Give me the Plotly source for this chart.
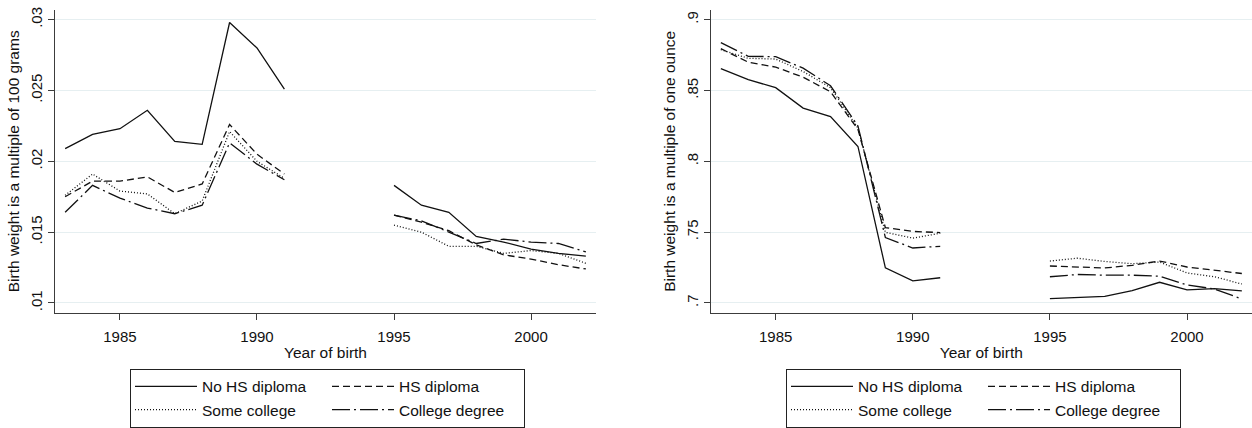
import plotly.graph_objects as go

# ---------------- data ----------------
years = list(range(1983, 2003))
N = None

# Left panel: share of birth weights that are a multiple of 100 grams
nohs_g = [.0209, .0219, .0223, .0236, .0214, .0212, .0298, .0280, .0251, N, N, N,
          .0183, .0169, .0164, .0147, .0143, .0138, .0135, .0133]
hs_g = [.0175, .0186, .0186, .0189, .0178, .0184, .0226, .0205, .0191, N, N, N,
        .0162, .0157, .0151, .0141, .0134, .0131, .0127, .0124]
sc_g = [.0176, .0191, .0179, .0177, .0163, .0172, .0221, .0200, .0188, N, N, N,
        .0155, .0150, .0140, .0140, .0135, .0137, .0135, .0128]
cd_g = [.0164, .0183, .0174, .0167, .0163, .0169, .0213, .0198, .0187, N, N, N,
        .0162, .0158, .0150, .0142, .0145, .0143, .0142, .0136]

# Right panel: share of birth weights that are a multiple of one ounce
nohs_o = [.8655, .8577, .8520, .8376, .8316, .8105, .7248, .7156, .7178, N, N, N,
          .7030, .7039, .7046, .7087, .7146, .7092, .7101, .7085]
hs_o = [.8795, .8700, .8665, .8594, .8491, .8225, .7532, .7505, .7497, N, N, N,
        .7261, .7254, .7247, .7266, .7296, .7254, .7231, .7208]
sc_o = [.8788, .8727, .8722, .8634, .8520, .8235, .7499, .7458, .7492, N, N, N,
        .7296, .7316, .7293, .7277, .7289, .7212, .7185, .7134]
cd_o = [.8838, .8741, .8739, .8658, .8533, .8250, .7462, .7388, .7400, N, N, N,
        .7185, .7201, .7196, .7196, .7189, .7127, .7099, .7028]

series_names = ["No HS diploma", "HS diploma", "Some college", "College degree"]
left_series = [nohs_g, hs_g, sc_g, cd_g]
right_series = [nohs_o, hs_o, sc_o, cd_o]

x_tickvals = [1985, 1990, 1995, 2000]
left_tickvals = [.01, .015, .02, .025, .03]
left_ticktext = [".01", ".015", ".02", ".025", ".03"]
right_tickvals = [.7, .75, .8, .85, .9]
right_ticktext = [".7", ".75", ".8", ".85", ".9"]

left_ytitle = "Birth weight is a multiple of 100 grams"
right_ytitle = "Birth weight is a multiple of one ounce"
xtitle = "Year of birth"

# ---------------- styling ----------------
W, H = 1252, 428
FONT = "Liberation Sans, Arial, Helvetica, sans-serif"
INK = "#111111"
dashes = ["solid", "7px,4px", "1px,2px", "18px,4px,2px,4px"]
groups = ["a", "b", "a", "b"]
order = [0, 2, 1, 3]  # legend order: column-wise

fig = go.Figure()

for panel, (series, xa, ya, leg) in enumerate([
        (left_series, "x", "y", "legend"),
        (right_series, "x2", "y2", "legend2")]):
    for i in order:
        fig.add_trace(go.Scatter(
            x=years, y=series[i], mode="lines", name=series_names[i],
            xaxis=xa, yaxis=ya, legend=leg, legendgroup=groups[i] + str(panel),
            connectgaps=False,
            line=dict(color=INK, width=1.3, dash=dashes[i]),
        ))

# pixel geometry
def px_x(v):
    return v / W

def px_y(v):
    return 1 - v / H

xl0, xl1 = 55, 596
xr0, xr1 = 710.7, 1252
yt, yb = 10, 318

axis_common = dict(
    showline=True, linecolor="#3c3c3c", linewidth=1.2,
    ticks="outside", ticklen=6, tickwidth=1.2, tickcolor="#3c3c3c",
    tickfont=dict(family=FONT, size=15, color=INK),
    zeroline=False, automargin=False,
)
x_common = dict(range=[1982.63, 2002.37], tickvals=x_tickvals, showgrid=False,
                ticklabelstandoff=4,
                title=dict(text=xtitle, standoff=3, font=dict(size=15.5)))
y_common = dict(tickangle=-90, showgrid=True, gridcolor="#e6eff1", gridwidth=1)
legend_common = dict(orientation="h", traceorder="grouped", xanchor="left",
                     yanchor="top", bordercolor="#222", borderwidth=1,
                     bgcolor="white", itemwidth=62, entrywidth=120,
                     font=dict(family=FONT, size=15.5))

fig.update_layout(
    width=W, height=H,
    margin=dict(l=0, r=0, t=0, b=0),
    paper_bgcolor="white", plot_bgcolor="white",
    font=dict(family=FONT, size=15.5, color=INK),
    xaxis=dict(domain=[px_x(xl0), px_x(xl1)], anchor="y", **x_common, **axis_common),
    yaxis=dict(domain=[px_y(yb), px_y(yt)], anchor="x",
               range=[0.009306, 0.030694], tickvals=left_tickvals,
               ticktext=left_ticktext,
               title=dict(text=left_ytitle, standoff=4, font=dict(size=15.5)),
               **y_common, **axis_common),
    xaxis2=dict(domain=[px_x(xr0), px_x(xr1)], anchor="y2", **x_common, **axis_common),
    yaxis2=dict(domain=[px_y(yb), px_y(yt)], anchor="x2",
                range=[0.69306, 0.90694], tickvals=right_tickvals,
                ticktext=right_ticktext,
                title=dict(text=right_ytitle, standoff=4, font=dict(size=15.5)),
                **y_common, **axis_common),
    legend=dict(x=px_x(130), y=px_y(375), **legend_common),
    legend2=dict(x=px_x(786), y=px_y(375), **legend_common),
)

fig.write_html("out.html")
